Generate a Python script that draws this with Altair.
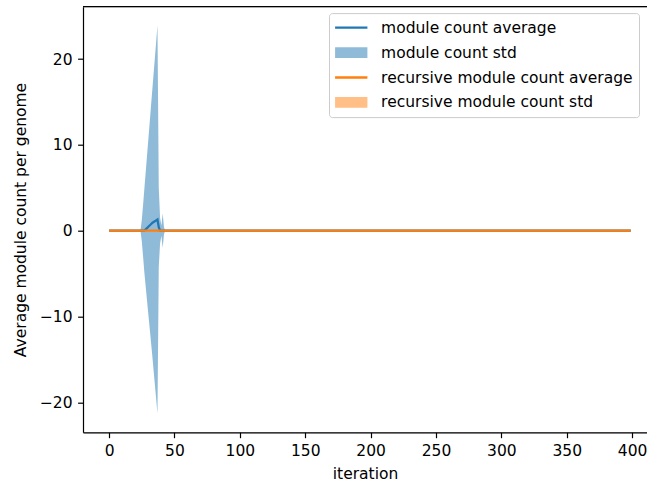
import altair as alt
import pandas as pd

# ---- data ----
iterations = list(range(400))
spike_start = 24
# module count average / std for iterations 24..43 (zero elsewhere)
module_avg_spike = [0, 0, 0, 0, 0.15, 0.3, 0.45, 0.6, 0.75, 0.9, 1.0, 1.1, 1.2, 1.3,
                    0.4, 0, 0, 0, 0, 0]
module_std_spike = [0, 1.2, 3.0, 4.9, 6.65, 8.4, 10.15, 11.9, 13.65, 15.4, 17.2, 19.0,
                    20.8, 22.6, 4.6, 1.5, 0.6, 2.0, 0.4, 0]
recursive_avg = [0.0] * 400
recursive_std = [0.0] * 400

module_avg = [0.0] * 400
module_std = [0.0] * 400
for i, (m, s) in enumerate(zip(module_avg_spike, module_std_spike)):
    module_avg[spike_start + i] = m
    module_std[spike_start + i] = s

labels = ["module count average", "module count std",
          "recursive module count average", "recursive module count std"]
legend_colors = ["#1f77b4", "#8fbbd9", "#ff7f0e", "#ffbf86"]
legend_shapes = ["M-1,-0.135H2.8V0.135H-1Z", "M-1,-0.64H2.8V0.64H-1Z",
                 "M-1,-0.135H2.8V0.135H-1Z", "M-1,-0.64H2.8V0.64H-1Z"]
x_ticks = list(range(0, 401, 50))
y_ticks = [-20, -10, 0, 10, 20]

mod_line = pd.DataFrame({"it": iterations, "v": module_avg})
mod_band = pd.DataFrame({"it": iterations,
                         "lo": [m - s for m, s in zip(module_avg, module_std)],
                         "hi": [m + s for m, s in zip(module_avg, module_std)]})
rec_line = pd.DataFrame({"it": iterations, "v": recursive_avg})
rec_band = pd.DataFrame({"it": iterations,
                         "lo": [m - s for m, s in zip(recursive_avg, recursive_std)],
                         "hi": [m + s for m, s in zip(recursive_avg, recursive_std)]})
legend_df = pd.DataFrame({"series": labels, "it": [0] * 4, "v": [0] * 4})

W, H = 564, 425.6
FONT = "DejaVu Sans"
FS = 15.5

xscale = alt.Scale(domain=[-19.95, 411.4], nice=False, zero=False)
yscale = alt.Scale(domain=[-23.5, 26.1], nice=False, zero=False)

xaxis = alt.Axis(title="iteration", values=x_ticks, format="d", grid=False,
                 labelFlush=False, titlePadding=8)
yaxis = alt.Axis(title="Average module count per genome", values=y_ticks, format="d",
                 grid=False, labelExpr="replace(datum.label, '-', '\u2212')",
                 titlePadding=11)

legend = alt.Legend(
    title=None, orient="none", legendX=246, legendY=6.4,
    padding=6.1, rowPadding=7.9, labelOffset=29, symbolSize=289,
    symbolOpacity=1, symbolStrokeWidth=0,
    labelFont=FONT, labelFontSize=FS, labelColor="#000", labelLimit=500,
    fillColor="rgba(255,255,255,0.8)", strokeColor="#cccccc", cornerRadius=3,
)

LW = 2.3
line_mod = alt.Chart(mod_line).mark_line(strokeWidth=LW, color="#1f77b4").encode(
    x=alt.X("it:Q", scale=xscale, axis=xaxis),
    y=alt.Y("v:Q", scale=yscale, axis=yaxis),
)
band_mod = alt.Chart(mod_band).mark_area(opacity=0.5, color="#1f77b4").encode(
    x=alt.X("it:Q", scale=xscale), y=alt.Y("lo:Q", scale=yscale), y2="hi:Q")
line_rec = alt.Chart(rec_line).mark_line(strokeWidth=LW, color="#ff7f0e").encode(
    x=alt.X("it:Q", scale=xscale), y=alt.Y("v:Q", scale=yscale))
band_rec = alt.Chart(rec_band).mark_area(opacity=0.5, color="#ff7f0e").encode(
    x=alt.X("it:Q", scale=xscale), y=alt.Y("lo:Q", scale=yscale), y2="hi:Q")

legend_layer = alt.Chart(legend_df).mark_point(opacity=0, filled=True).encode(
    x=alt.X("it:Q", scale=xscale), y=alt.Y("v:Q", scale=yscale),
    color=alt.Color("series:N", scale=alt.Scale(domain=labels, range=legend_colors),
                    legend=legend),
    shape=alt.Shape("series:N", scale=alt.Scale(domain=labels, range=legend_shapes),
                    legend=legend),
)

top_spine = alt.Chart(pd.DataFrame({"a": [0]})).mark_rule(
    color="#000", strokeWidth=1.2).encode(
    x=alt.value(0), x2=alt.value(W + 5), y=alt.value(0))

chart = alt.layer(line_mod, band_mod, line_rec, band_rec, legend_layer, top_spine).properties(
    width=W, height=H,
    padding={"left": 83, "top": 6.7, "right": 0, "bottom": 50.7},
    autosize=alt.AutoSizeParams(type="none"),
).configure_view(stroke=None).configure(font=FONT).configure_axis(
    domainColor="#000", domainWidth=1.2, tickColor="#000", tickWidth=1.2, tickSize=5.4,
    labelPadding=5.5, labelFont=FONT, labelFontSize=FS, labelColor="#000",
    titleFont=FONT, titleFontSize=FS, titleFontWeight="normal", titleColor="#000",
)

chart.save("out.html", embed_options={"renderer": "svg", "actions": False})
